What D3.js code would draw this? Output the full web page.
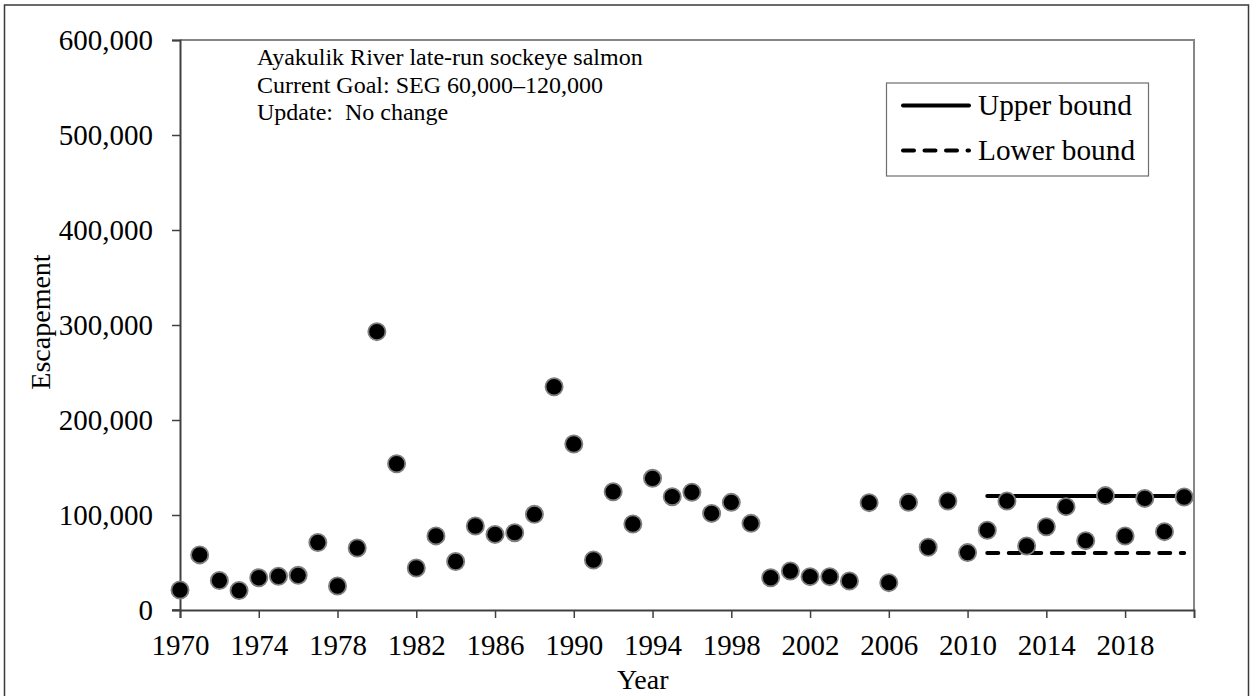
<!DOCTYPE html>
<html>
<head>
  <title>Ayakulik River late-run sockeye salmon</title>
  <script src="https://d3js.org/d3.v7.min.js"></script>
  <style>
    body { margin: 0; background: #fff; }
    text { font-family: "Liberation Serif", "Times New Roman", serif; fill: #000; }
  </style>
</head>
<body>
  <div id="chart"></div>
  <script>
// Escapement by year
const years = [1970, 1971, 1972, 1973, 1974, 1975, 1976, 1977, 1978, 1979,
  1980, 1981, 1982, 1983, 1984, 1985, 1986, 1987, 1988, 1989,
  1990, 1991, 1992, 1993, 1994, 1995, 1996, 1997, 1998, 1999,
  2000, 2001, 2002, 2003, 2004, 2005, 2006, 2007, 2008, 2009,
  2010, 2011, 2012, 2013, 2014, 2015, 2016, 2017, 2018, 2019,
  2020, 2021];
const escapement = [21000, 58000, 31000, 20500, 34000, 35500, 36500, 71000, 25300, 65300,
  293000, 154000, 44200, 78000, 51000, 88400, 79600, 81400, 100700, 235000,
  174700, 52600, 124500, 90500, 138600, 119300, 124000, 101700, 113300, 91200,
  34000, 41000, 35100, 35100, 30500, 113000, 28800, 113300, 66000, 114700,
  60400, 84000, 114700, 67400, 87700, 108800, 73000, 120400, 77900, 117500,
  82500, 118900];

// goal range (SEG)
const boundYears = [2011, 2021];
const upperBound = [120000, 120000];
const lowerBound = [60000, 60000];

const yTicks = [0, 100000, 200000, 300000, 400000, 500000, 600000];
const xTicks = [1970, 1974, 1978, 1982, 1986, 1990, 1994, 1998, 2002, 2006, 2010, 2014, 2018];

const noteLines = ["Ayakulik River late-run sockeye salmon",
  "Current Goal: SEG 60,000\u2013120,000",
  "Update:  No change"];
const legendLabels = ["Upper bound", "Lower bound"];

// chart dimensions
const W = 1252, H = 696;
const margin = { top: 40, right: 58, bottom: 86, left: 180 };
const width = W - margin.left - margin.right;
const height = H - margin.top - margin.bottom;
const serif = '"Liberation Serif", "Times New Roman", serif';

const svg = d3.select("#chart")
  .append("svg")
  .attr("width", W)
  .attr("height", H);

// outer frame
svg.append("rect")
  .attr("x", 4.5).attr("y", 5)
  .attr("width", 1244).attr("height", 720)
  .attr("fill", "none")
  .attr("stroke", "#3a3a3a")
  .attr("stroke-width", 1.5);

const g = svg.append("g")
  .attr("transform", `translate(${margin.left},${margin.top})`);

const x = d3.scaleLinear()
  .domain([1970, 2021.5])
  .range([0, width]);

const y = d3.scaleLinear()
  .domain([0, 600000])
  .range([height, 0]);

// top and right border of plot area
g.append("path")
  .attr("d", `M0,0H${width}V${height}`)
  .attr("fill", "none")
  .attr("stroke", "#868686")
  .attr("stroke-width", 2);

// y axis
const yAxis = g.append("g")
  .call(d3.axisLeft(y).tickValues(yTicks).tickSize(8).tickPadding(19)
    .tickFormat(d3.format(",")));
yAxis.select(".domain").attr("stroke", "#404040").attr("stroke-width", 2);
yAxis.selectAll(".tick line").attr("stroke", "#404040").attr("stroke-width", 1.5);
yAxis.selectAll(".tick text")
  .style("font-family", serif)
  .attr("font-size", 29)
  .attr("dy", "0.33em");

// x axis
const xAxis = g.append("g")
  .attr("transform", `translate(0,${height})`)
  .call(d3.axisBottom(x).tickValues(xTicks).tickSize(8).tickPadding(16)
    .tickFormat(d3.format("d")));
xAxis.select(".domain").attr("stroke", "#404040").attr("stroke-width", 2);
xAxis.selectAll(".tick line").attr("stroke", "#404040").attr("stroke-width", 1.5);
xAxis.selectAll(".tick text")
  .style("font-family", serif)
  .attr("font-size", 29);
// the 0 tick on the y axis also pokes out left at the corner
g.append("line")
  .attr("x1", -8).attr("x2", 0)
  .attr("y1", height).attr("y2", height)
  .attr("stroke", "#404040").attr("stroke-width", 1.5);

// axis titles
svg.append("text")
  .attr("x", margin.left + x(1993.5))
  .attr("y", 689)
  .attr("text-anchor", "middle")
  .attr("font-size", 28)
  .text("Year");

svg.append("text")
  .attr("transform", `translate(50,${margin.top + height / 2 - 3}) rotate(-90)`)
  .attr("text-anchor", "middle")
  .attr("font-size", 28)
  .text("Escapement");

// bound lines
const line = d3.line()
  .x(d => x(d[0]))
  .y(d => y(d[1]));

g.append("path")
  .datum(d3.zip(boundYears, upperBound))
  .attr("d", line)
  .attr("fill", "none")
  .attr("stroke", "#000")
  .attr("stroke-width", 4)
  .attr("stroke-linecap", "round");

g.append("path")
  .datum(d3.zip(boundYears, lowerBound))
  .attr("d", line)
  .attr("fill", "none")
  .attr("stroke", "#000")
  .attr("stroke-width", 4)
  .attr("stroke-linecap", "round")
  .attr("stroke-dasharray", "11,10.5");

// escapement points
g.selectAll(".dot")
  .data(d3.zip(years, escapement))
  .enter()
  .append("circle")
  .attr("class", "dot")
  .attr("cx", d => x(d[0]))
  .attr("cy", d => y(d[1]))
  .attr("r", 8.6)
  .attr("fill", "#000")
  .attr("stroke", "#7f7f7f")
  .attr("stroke-width", 1.8);

// notes in the upper left
svg.append("g").selectAll("text")
  .data(noteLines)
  .enter()
  .append("text")
  .attr("x", 257)
  .attr("y", (d, i) => 65 + i * 27.6)
  .attr("font-size", 24)
  .style("white-space", "pre")
  .text(d => d);

// legend
const legend = svg.append("g");
legend.append("rect")
  .attr("x", 886.5).attr("y", 83)
  .attr("width", 262).attr("height", 93)
  .attr("fill", "#fff")
  .attr("stroke", "#6e6e6e")
  .attr("stroke-width", 1.2);

legendLabels.forEach((label, i) => {
  const ly = 105.5 + i * 45;
  legend.append("line")
    .attr("x1", 903).attr("x2", 969)
    .attr("y1", ly).attr("y2", ly)
    .attr("stroke", "#000")
    .attr("stroke-width", 4)
    .attr("stroke-linecap", "round")
    .attr("stroke-dasharray", i === 0 ? null : "11,10.5");
  legend.append("text")
    .attr("x", 978)
    .attr("y", ly + 9.5)
    .attr("font-size", 29.3)
    .text(label);
});
  </script>
</body>
</html>
